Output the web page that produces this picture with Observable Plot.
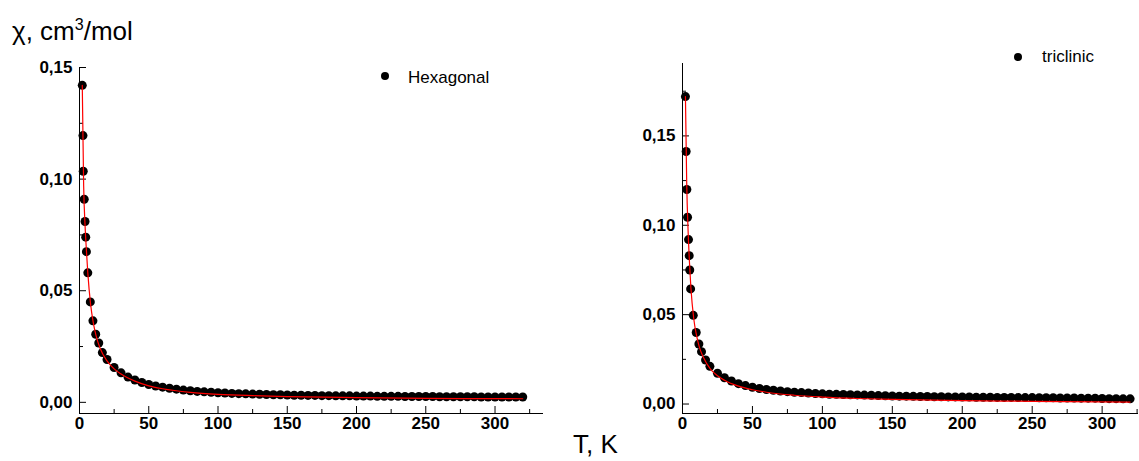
<!DOCTYPE html>
<html><head><meta charset="utf-8">
<script src="https://cdn.jsdelivr.net/npm/d3@7"></script>
<script src="https://cdn.jsdelivr.net/npm/@observablehq/plot@0.6"></script>
<style>
body{margin:0;background:#fff;font-family:"Liberation Sans",Arial,sans-serif;}
#wrap{position:relative;width:1139px;height:461px;overflow:hidden;background:#fff;}
#wrap svg{position:absolute;top:0;}
.abs{position:absolute;white-space:nowrap;line-height:1;color:#000;}
.dot{position:absolute;width:8px;height:8px;border-radius:50%;background:#000;}
sup{font-size:0.62em;position:relative;top:-0.15em;vertical-align:top;}
</style></head><body>
<div id="wrap">
  <div class="abs" style="left:12px;top:18px;font-size:26px;">χ, cm<sup>3</sup>/mol</div>
  <div class="abs" style="left:573px;top:431px;font-size:26px;line-height:26px;">T, K</div>
  <div class="dot" style="left:381px;top:72px;"></div>
  <div class="abs" style="left:408px;top:69px;font-size:17px;">Hexagonal</div>
  <div class="dot" style="left:1014px;top:53px;"></div>
  <div class="abs" style="left:1042px;top:48px;font-size:17px;">triclinic</div>
</div>
<script>
// Hexagonal sample: temperature (K) and susceptibility (cm3/mol)
const hexT = [2.0, 2.5, 2.7, 3.4, 4.0, 4.5, 5.0, 6.0, 7.8, 9.7, 11.7, 13.9, 16.5, 19.9,
  25, 30, 35, 40, 45, 50, 55, 60, 65, 70, 75, 80, 85, 90, 95, 100, 105, 110, 115, 120,
  125, 130, 135, 140, 145, 150, 155, 160, 165, 170, 175, 180, 185, 190, 195, 200, 205,
  210, 215, 220, 225, 230, 235, 240, 245, 250, 255, 260, 265, 270, 275, 280, 285, 290,
  295, 300, 305, 310, 315, 320];
const hexChi = [0.142, 0.1195, 0.1035, 0.091, 0.081, 0.074, 0.0675, 0.058, 0.045, 0.0365, 0.0305, 0.0266, 0.0223, 0.0192,
  0.0156, 0.0132, 0.0113, 0.0100, 0.0089, 0.0080, 0.0073, 0.0068, 0.0063, 0.0059, 0.0055, 0.0052, 0.0049, 0.0047, 0.0045, 0.0043,
  0.0042, 0.0040, 0.0039, 0.0038, 0.0037, 0.0036, 0.0035, 0.0034, 0.0034, 0.0033, 0.0032, 0.0032, 0.0031, 0.0031, 0.0030,
  0.0030, 0.0029, 0.0029, 0.0029, 0.0028, 0.0028, 0.0028, 0.0027, 0.0027, 0.0027, 0.0027, 0.0026, 0.0026, 0.0026, 0.0026,
  0.0026, 0.0025, 0.0025, 0.0025, 0.0025, 0.0025, 0.0025, 0.0024, 0.0024, 0.0024, 0.0024, 0.0024, 0.0024, 0.0024];
const hexFitT = [2.0, 3, 4, 5, 6, 8, 10, 12, 15, 20, 25, 30, 40, 50, 60, 80, 100, 125, 150, 200, 250, 320];
const hexFitChi = [0.142, 0.097, 0.0795, 0.068, 0.058, 0.044, 0.0355, 0.0298, 0.024, 0.0185, 0.0150, 0.0127, 0.0095, 0.0074,
  0.0061, 0.0045, 0.0036, 0.0030, 0.0026, 0.0021, 0.0018, 0.0016];

// Triclinic sample
const triT = [2.1, 2.6, 3.1, 3.6, 4.3, 4.8, 5.2, 5.8, 7.7, 9.8, 11.7, 13.6, 16.5, 19.6,
  25, 30, 35, 40, 45, 50, 55, 60, 65, 70, 75, 80, 85, 90, 95, 100, 105, 110, 115, 120,
  125, 130, 135, 140, 145, 150, 155, 160, 165, 170, 175, 180, 185, 190, 195, 200, 205,
  210, 215, 220, 225, 230, 235, 240, 245, 250, 255, 260, 265, 270, 275, 280, 285, 290,
  295, 300, 305, 310, 315, 320];
const triChi = [0.172, 0.1413, 0.120, 0.1045, 0.092, 0.083, 0.075, 0.0644, 0.0496, 0.040, 0.0336, 0.0293, 0.0246, 0.0211,
  0.0172, 0.0147, 0.0129, 0.0114, 0.0103, 0.0094, 0.0087, 0.0081, 0.0077, 0.0073, 0.0069, 0.0066, 0.0064, 0.0062, 0.0059, 0.0057,
  0.0055, 0.0054, 0.0053, 0.0052, 0.0051, 0.0050, 0.0049, 0.0047, 0.0046, 0.0045, 0.0044, 0.0044, 0.0043, 0.0042, 0.0042,
  0.0041, 0.0041, 0.0040, 0.0040, 0.0039, 0.0039, 0.0038, 0.0038, 0.0038, 0.0037, 0.0037, 0.0037, 0.0036, 0.0036, 0.0036,
  0.0035, 0.0035, 0.0035, 0.0034, 0.0034, 0.0034, 0.0033, 0.0033, 0.0033, 0.0031, 0.0030, 0.0030, 0.0029, 0.0029];
const triFitT = [2.1, 3, 4, 5, 6, 8, 10, 12, 15, 20, 25, 30, 40, 50, 60, 80, 100, 125, 150, 200, 250, 320];
const triFitChi = [0.172, 0.124, 0.097, 0.079, 0.065, 0.048, 0.0385, 0.032, 0.026, 0.0195, 0.0158, 0.0133, 0.0100, 0.0080,
  0.0066, 0.0049, 0.0039, 0.0031, 0.0026, 0.0019, 0.0015, 0.0011];

// Tick values
const xMajor = [0, 50, 100, 150, 200, 250, 300];
const xMinor = [25, 75, 125, 175, 225, 275, 325];
const yMajor = [0, 0.05, 0.10, 0.15];
const yMinorHex = [0.025, 0.075, 0.125];
const yMinorTri = [0.025, 0.075, 0.125, 0.175];

const fmt = d => d.toFixed(2).replace(".", ",");
const FONT = '"Liberation Sans", Arial, sans-serif';

function panel(o) {
  const pts = o.T.map((t, i) => ({t, c: o.chi[i]}));
  const fit = o.fitT.map((t, i) => ({t, c: o.fitChi[i]}));
  return Plot.plot({
    width: o.width, height: 461,
    marginLeft: o.marginLeft, marginRight: o.marginRight,
    marginTop: o.marginTop, marginBottom: o.marginBottom,
    x: {domain: o.xDomain},
    y: {domain: o.yDomain},
    style: {fontFamily: FONT, background: "transparent", overflow: "visible", color: "#000"},
    marks: [
      // inward ticks: outward ticks shifted back across the axis line
      Plot.axisX(xMinor, {tickSize: 4, dy: -4, fill: "none", label: null, stroke: "#000"}),
      Plot.axisX(xMajor, {tickSize: 7, dy: -7, fill: "none", label: null, stroke: "#000"}),
      Plot.axisX(xMajor, {tickSize: 0, tickPadding: 3, tickFormat: d => String(d), fontSize: 17, fontWeight: "bold", label: null, fill: "#000"}),
      Plot.axisY(o.yMinor, {tickSize: 4, dx: 4, fill: "none", label: null, stroke: "#000"}),
      Plot.axisY(yMajor, {tickSize: 7, dx: 7, fill: "none", label: null, stroke: "#000"}),
      Plot.axisY(yMajor, {tickSize: 0, tickPadding: 7, tickFormat: fmt, fontSize: 17, fontWeight: "bold", label: null, fill: "#000"}),
      Plot.ruleY([o.yDomain[0]], {stroke: "#000", strokeWidth: 1}),
      Plot.ruleX([o.xDomain[0]], {stroke: "#000", strokeWidth: 1}),
      Plot.dot(pts, {x: "t", y: "c", r: 4.5, fill: "#000", stroke: "none"}),
      Plot.line(fit, {x: "t", y: "c", stroke: "#ff0000", strokeWidth: 1.2, curve: "monotone-x"})
    ]
  });
}

const left = panel({T: hexT, chi: hexChi, fitT: hexFitT, fitChi: hexFitChi,
  width: 570, marginLeft: 79, marginRight: 27, marginTop: 67, marginBottom: 48,
  xDomain: [0, 335], yDomain: [-0.005, 0.15], yMinor: yMinorHex});
left.style.left = "0px";
const right = panel({T: triT, chi: triChi, fitT: triFitT, fitChi: triFitChi,
  width: 569, marginLeft: 112, marginRight: 1, marginTop: 63, marginBottom: 48,
  xDomain: [0, 326], yDomain: [-0.0053, 0.1905], yMinor: yMinorTri});
right.style.left = "570px";
const wrap = document.getElementById("wrap");
wrap.insertBefore(right, wrap.firstChild);
wrap.insertBefore(left, wrap.firstChild);
</script>
</body></html>
